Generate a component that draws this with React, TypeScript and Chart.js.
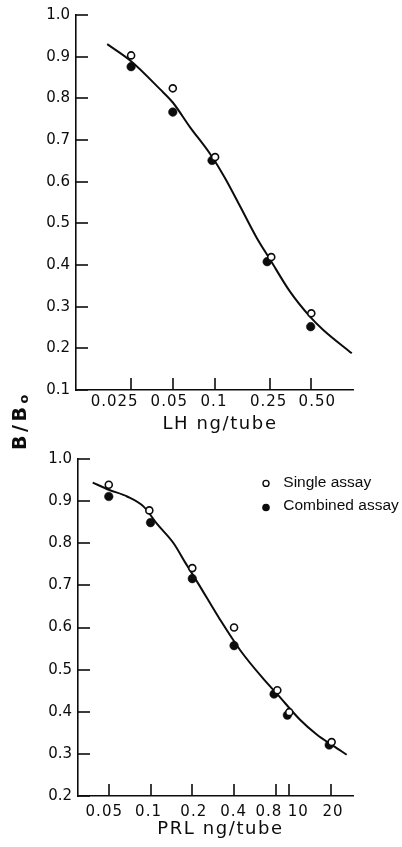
import React, { useEffect, useRef } from "react";
import { Chart, registerables } from "chart.js";

Chart.register(...registerables);

// ---------- Upper panel: LH ----------
const lhTickValues = [0.025, 0.05, 0.1, 0.25, 0.5];
const lhTickLabels = ["0.025", "0.05", "0.1", "0.25", "0.50"];
const lhYTicks = [0.1, 0.2, 0.3, 0.4, 0.5, 0.6, 0.7, 0.8, 0.9, 1.0];
const lhSingleX = [0.025, 0.05, 0.101, 0.257, 0.5];
const lhSingleY = [0.903, 0.824, 0.659, 0.419, 0.284];
const lhCombinedX = [0.025, 0.05, 0.096, 0.24, 0.495];
const lhCombinedY = [0.876, 0.767, 0.651, 0.408, 0.252];
const lhCurveX = [0.0168, 0.025, 0.0404, 0.05, 0.0665, 0.0928, 0.119, 0.153, 0.202, 0.25, 0.351, 0.489, 0.61, 0.98];
const lhCurveY = [0.93, 0.889, 0.822, 0.79, 0.731, 0.667, 0.609, 0.541, 0.465, 0.415, 0.336, 0.276, 0.244, 0.188];
const lhTitle = "LH ng/tube";

// ---------- Lower panel: PRL ----------
const prlTickValues = [0.05, 0.1, 0.2, 0.4, 0.8, 1, 2];
const prlTickLabels = ["0.05", "0.1", "0.2", "0.4", "0.8", "10", "20"];
const prlYTicks = [0.2, 0.3, 0.4, 0.5, 0.6, 0.7, 0.8, 0.9, 1.0];
const prlSingleX = [0.05, 0.098, 0.2, 0.4, 0.82, 1.0, 2.02];
const prlSingleY = [0.939, 0.878, 0.741, 0.6, 0.451, 0.399, 0.328];
const prlCombinedX = [0.05, 0.1, 0.2, 0.4, 0.777, 0.969, 1.94];
const prlCombinedY = [0.911, 0.849, 0.716, 0.557, 0.442, 0.392, 0.321];
const prlCurveX = [0.0383, 0.05, 0.0678, 0.0892, 0.1114, 0.1466, 0.178, 0.222, 0.318, 0.443, 0.651, 0.813, 1.196, 1.577, 2.076, 2.593];
const prlCurveY = [0.944, 0.927, 0.911, 0.887, 0.846, 0.8, 0.754, 0.703, 0.618, 0.546, 0.478, 0.443, 0.381, 0.346, 0.319, 0.298];
const prlTitle = "PRL ng/tube";

const legendLabels = ["Single assay", "Combined assay"];
const yTitleMain = "B/B";
const yTitleSub = "o";

// ---------- Styles ----------
const INK = "#0c0c0c";
const FONT = '"DejaVu Sans", sans-serif';
const TICK_LEN = 12;

type Panel = {
  singleX: number[]; singleY: number[];
  combinedX: number[]; combinedY: number[];
  curveX: number[]; curveY: number[];
  xTicks: number[]; xLabels: string[]; xNudge: number[];
  yTicks: number[];
  xMin: number; xMax: number; yMin: number; yMax: number;
  padTop: number; yAxisWidth: number; xAxisHeight: number;
  labelDy: number; titleBaseline: number; titleNudge: number;
  title: string; showYTitle: boolean; showLegend: boolean;
};

const zip = (xs: number[], ys: number[]) => xs.map((x, i) => ({ x, y: ys[i] }));

function decor(p: Panel) {
  return {
    id: "decor",
    afterDraw(chart: any) {
      const { ctx, chartArea, scales } = chart;
      const xs = scales.x;
      const ys = scales.y;
      ctx.save();
      ctx.strokeStyle = INK;
      ctx.lineWidth = 1.6;
      // inward tick marks
      for (const v of p.yTicks) {
        const py = Math.round(ys.getPixelForValue(v));
        ctx.beginPath();
        ctx.moveTo(chartArea.left, py);
        ctx.lineTo(chartArea.left + TICK_LEN, py);
        ctx.stroke();
      }
      for (const v of p.xTicks) {
        const px = Math.round(xs.getPixelForValue(v));
        ctx.beginPath();
        ctx.moveTo(px, chartArea.bottom);
        ctx.lineTo(px, chartArea.bottom - TICK_LEN);
        ctx.stroke();
      }
      // x tick labels
      ctx.fillStyle = INK;
      ctx.font = `15px ${FONT}`;
      ctx.letterSpacing = "1px";
      ctx.textAlign = "center";
      ctx.textBaseline = "middle";
      p.xLabels.forEach((lab, i) => {
        const px = xs.getPixelForValue(p.xTicks[i]) + p.xNudge[i] + 0.5;
        ctx.fillText(lab, px, chartArea.bottom + p.labelDy);
      });
      // x title
      ctx.font = `18px ${FONT}`;
      ctx.letterSpacing = "1.6px";
      ctx.textBaseline = "alphabetic";
      ctx.fillText(p.title, (chartArea.left + chartArea.right) / 2 + p.titleNudge, p.titleBaseline);
      ctx.letterSpacing = "0px";

      if (p.showYTitle) {
        ctx.save();
        ctx.translate(26, 450);
        ctx.rotate(-Math.PI / 2);
        ctx.textAlign = "left";
        ctx.textBaseline = "alphabetic";
        ctx.font = `bold 19px ${FONT}`;
        ctx.letterSpacing = "3.5px";
        ctx.fillText(yTitleMain, 0, 0);
        const w = ctx.measureText(yTitleMain).width;
        ctx.font = `bold 13px ${FONT}`;
        ctx.letterSpacing = "0px";
        ctx.fillText(yTitleSub, w, 2);
        ctx.restore();
      }

      if (p.showLegend) {
        const mx = chartArea.right - 87;
        const tx = chartArea.right - 69.7;
        const rows = [chartArea.top + 27.7, chartArea.top + 51];
        ctx.font = '15.5px "Liberation Sans", Arial, sans-serif';
        ctx.textAlign = "left";
        ctx.textBaseline = "alphabetic";
        legendLabels.forEach((lab, i) => {
          const base = rows[i];
          ctx.beginPath();
          if (i === 0) {
            ctx.arc(mx, base - 3.3, 3, 0, Math.PI * 2);
            ctx.fillStyle = "#fff";
            ctx.fill();
            ctx.lineWidth = 1.4;
            ctx.strokeStyle = INK;
            ctx.stroke();
          } else {
            ctx.arc(mx, base - 2.5, 3.8, 0, Math.PI * 2);
            ctx.fillStyle = INK;
            ctx.fill();
          }
          ctx.fillStyle = INK;
          ctx.fillText(lab, tx, base);
        });
      }
      ctx.restore();
    },
  };
}

function makeChart(canvas: HTMLCanvasElement, p: Panel) {
  return new Chart(canvas, {
    type: "scatter",
    data: {
      datasets: [
        {
          label: legendLabels[0],
          data: zip(p.singleX, p.singleY),
          pointRadius: 3.5,
          pointBorderWidth: 1.6,
          pointBackgroundColor: "#fff",
          pointBorderColor: INK,
          order: 0,
        },
        {
          label: legendLabels[1],
          data: zip(p.combinedX, p.combinedY),
          pointRadius: 4.3,
          pointBorderWidth: 0.5,
          pointBackgroundColor: INK,
          pointBorderColor: INK,
          order: 1,
        },
        {
          label: "fit",
          data: zip(p.curveX, p.curveY),
          showLine: true,
          pointRadius: 0,
          borderColor: INK,
          borderWidth: 2,
          cubicInterpolationMode: "monotone",
          fill: false,
          order: 2,
        },
      ],
    } as any,
    options: {
      responsive: false,
      maintainAspectRatio: false,
      animation: false,
      devicePixelRatio: 1,
      events: [],
      layout: { padding: { left: 0, right: 49, top: p.padTop, bottom: 0 } },
      plugins: { legend: { display: false }, tooltip: { enabled: false } },
      scales: {
        x: {
          type: "logarithmic",
          position: "bottom",
          min: p.xMin,
          max: p.xMax,
          grid: { display: false, drawTicks: false },
          border: { display: true, color: INK, width: 1.6 },
          ticks: { display: false },
          afterBuildTicks: (s: any) => {
            s.ticks = p.xTicks.map((v) => ({ value: v }));
          },
          afterFit: (s: any) => {
            s.height = p.xAxisHeight;
          },
        },
        y: {
          type: "linear",
          position: "left",
          min: p.yMin,
          max: p.yMax,
          grid: { display: false, drawTicks: false },
          border: { display: true, color: INK, width: 1.6 },
          ticks: {
            color: INK,
            font: { family: "DejaVu Sans", size: 15 },
            padding: 6,
            autoSkip: false,
            callback: (v: any) => Number(v).toFixed(1),
          },
          afterBuildTicks: (s: any) => {
            s.ticks = p.yTicks.map((v) => ({ value: v }));
          },
          afterFit: (s: any) => {
            s.width = p.yAxisWidth;
          },
        },
      },
    } as any,
    plugins: [decor(p)],
  });
}

const lhPanel: Panel = {
  singleX: lhSingleX, singleY: lhSingleY,
  combinedX: lhCombinedX, combinedY: lhCombinedY,
  curveX: lhCurveX, curveY: lhCurveY,
  xTicks: lhTickValues, xLabels: lhTickLabels, xNudge: [-17, -4, -1, -1.5, 5.5],
  yTicks: lhYTicks,
  xMin: 0.01, xMax: 1.0, yMin: 0.1, yMax: 1.0,
  padTop: 14, yAxisWidth: 76, xAxisHeight: 65,
  labelDy: 12.5, titleBaseline: 429, titleNudge: 5.5,
  title: lhTitle, showYTitle: true, showLegend: false,
};

const prlPanel: Panel = {
  singleX: prlSingleX, singleY: prlSingleY,
  combinedX: prlCombinedX, combinedY: prlCombinedY,
  curveX: prlCurveX, curveY: prlCurveY,
  xTicks: prlTickValues, xLabels: prlTickLabels, xNudge: [-5, -2.5, 1, -1, -7.5, 8.5, 1.5],
  yTicks: prlYTicks,
  xMin: 0.03, xMax: 2.88, yMin: 0.2, yMax: 1.0,
  padTop: 19, yAxisWidth: 78, xAxisHeight: 51,
  labelDy: 16, titleBaseline: 394, titleNudge: 5,
  title: prlTitle, showYTitle: false, showLegend: true,
};

export default function App() {
  const topRef = useRef<HTMLCanvasElement>(null);
  const botRef = useRef<HTMLCanvasElement>(null);

  useEffect(() => {
    const c1 = makeChart(topRef.current!, lhPanel);
    const c2 = makeChart(botRef.current!, prlPanel);
    return () => {
      c1.destroy();
      c2.destroy();
    };
  }, []);

  return (
    <div style={{ position: "absolute", left: 0, top: 0, width: 402, height: 847, background: "#fff" }}>
      <canvas
        ref={topRef}
        width={402}
        height={455}
        style={{ position: "absolute", left: 0, top: 0, width: 402, height: 455 }}
      />
      <canvas
        ref={botRef}
        width={402}
        height={407}
        style={{ position: "absolute", left: 0, top: 440, width: 402, height: 407 }}
      />
    </div>
  );
}
